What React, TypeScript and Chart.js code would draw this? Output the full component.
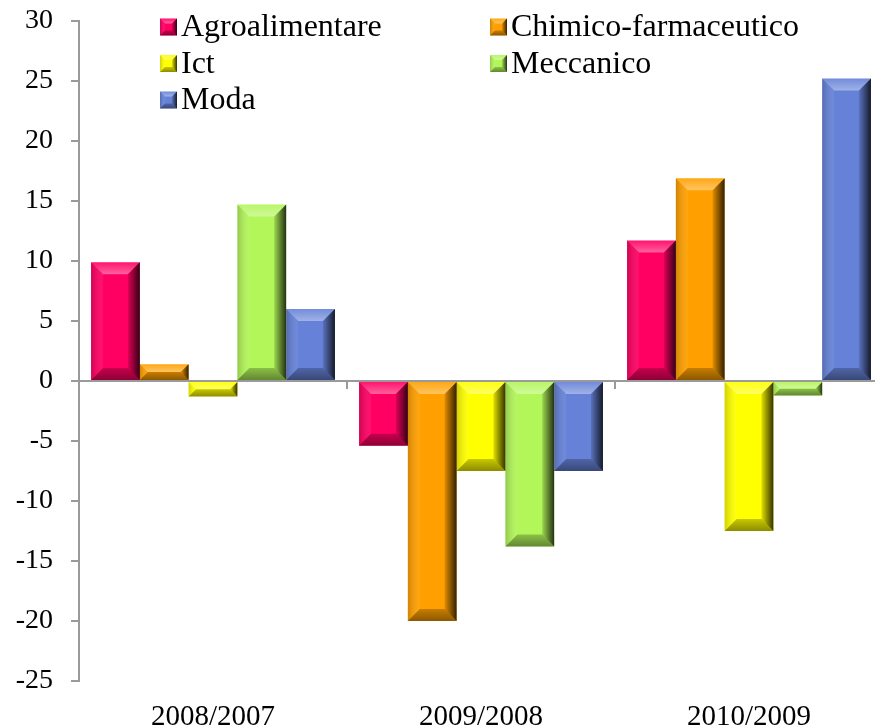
import { useEffect, useRef } from 'react';
import { Chart, registerables } from 'chart.js';

Chart.register(...registerables);

// Variazione percentuale per comparto
const categories = ['2008/2007', '2009/2008', '2010/2009'];
const seriesNames = ['Agroalimentare', 'Chimico-farmaceutico', 'Ict', 'Meccanico', 'Moda'];
const agroalimentare = [9.9, -5.4, 11.7];
const chimicoFarmaceutico = [1.4, -20.0, 16.9];
const ict = [-1.3, -7.5, -12.5];
const meccanico = [14.7, -13.8, -1.2];
const moda = [6.0, -7.5, 25.2];
const seriesColors = ['#FF0062', '#FFA000', '#FFFF00', '#B2F65A', '#6682D8'];
const yMin = -25;
const yMax = 30;
const yStep = 5;

const FONT = '"Liberation Serif", "Times New Roman", serif';

function poly(ctx: CanvasRenderingContext2D, pts: number[][], fill: string | CanvasGradient) {
  ctx.beginPath();
  ctx.moveTo(pts[0][0], pts[0][1]);
  for (let i = 1; i < pts.length; i++) ctx.lineTo(pts[i][0], pts[i][1]);
  ctx.closePath();
  ctx.fillStyle = fill;
  ctx.fill();
}

// Bevelled edges drawn over a flat rectangle
function bevel(ctx: CanvasRenderingContext2D, l: number, t: number, r: number, b: number, depth: number) {
  const d = Math.min(depth, (r - l) / 2, (b - t) / 2);
  if (d <= 0) return;
  ctx.save();
  let g = ctx.createLinearGradient(0, t, 0, t + d);
  g.addColorStop(0, 'rgba(255,255,255,0.08)');
  g.addColorStop(1, 'rgba(255,255,255,0.38)');
  poly(ctx, [[l, t], [r, t], [r - d, t + d], [l + d, t + d]], g);

  g = ctx.createLinearGradient(l, 0, l + d, 0);
  g.addColorStop(0, 'rgba(0,0,0,0.18)');
  g.addColorStop(1, 'rgba(255,255,255,0.06)');
  poly(ctx, [[l, t], [l + d, t + d], [l + d, b - d], [l, b]], g);

  g = ctx.createLinearGradient(r - d, 0, r, 0);
  g.addColorStop(0, 'rgba(0,0,0,0.12)');
  g.addColorStop(1, 'rgba(0,0,0,0.8)');
  poly(ctx, [[r, t], [r, b], [r - d, b - d], [r - d, t + d]], g);

  g = ctx.createLinearGradient(0, b - d, 0, b);
  g.addColorStop(0, 'rgba(0,0,0,0.22)');
  g.addColorStop(1, 'rgba(0,0,0,0.45)');
  poly(ctx, [[l, b], [r, b], [r - d, b - d], [l + d, b - d]], g);
  ctx.restore();
}

const bevelPlugin = {
  id: 'bevelBars',
  afterDatasetsDraw(chart: any) {
    const ctx = chart.ctx as CanvasRenderingContext2D;
    chart.data.datasets.forEach((_: any, i: number) => {
      const meta = chart.getDatasetMeta(i);
      meta.data.forEach((el: any) => {
        const p = el.getProps(['x', 'y', 'base', 'width'], true);
        const l = p.x - p.width / 2;
        const r = p.x + p.width / 2;
        const t = Math.min(p.y, p.base);
        const b = Math.max(p.y, p.base);
        bevel(ctx, l, t, r, b, 12);
      });
    });
  },
};

// Zero line with category separators
const zeroLinePlugin = {
  id: 'zeroLine',
  afterDatasetsDraw(chart: any) {
    const ctx = chart.ctx as CanvasRenderingContext2D;
    const { left, right } = chart.chartArea;
    const y0 = chart.scales.y.getPixelForValue(0);
    ctx.save();
    ctx.strokeStyle = '#9a9a9a';
    ctx.lineWidth = 2;
    ctx.beginPath();
    ctx.moveTo(left, y0);
    ctx.lineTo(right, y0);
    ctx.stroke();
    const n = categories.length;
    const step = (right - left) / n;
    for (let i = 1; i <= n; i++) {
      const x = Math.round(left + step * i);
      ctx.beginPath();
      ctx.moveTo(x, y0);
      ctx.lineTo(x, y0 + 8);
      ctx.stroke();
    }
    ctx.restore();
  },
};

// Two-column legend laid over the top of the plot
const legendPlugin = {
  id: 'gridLegend',
  afterDraw(chart: any) {
    const ctx = chart.ctx as CanvasRenderingContext2D;
    const { left, top } = chart.chartArea;
    const colX = [left + 81, left + 411];
    const rowH = 36.5;
    const box = 17;
    ctx.save();
    ctx.textBaseline = 'middle';
    ctx.textAlign = 'left';
    chart.data.datasets.forEach((ds: any, i: number) => {
      const col = i % 2;
      const row = Math.floor(i / 2);
      const cx = colX[col];
      const cy = top + 6 + row * rowH;
      ctx.fillStyle = ds.backgroundColor;
      ctx.fillRect(cx, cy - box / 2, box, box);
      bevel(ctx, cx, cy - box / 2, cx + box, cy + box / 2, 5);
      ctx.font = `32px ${FONT}`;
      ctx.fillStyle = '#000';
      ctx.fillText(ds.label, cx + box + 4, cy + 1);
    });
    ctx.restore();
  },
};

const whiteBg = {
  id: 'whiteBg',
  beforeDraw(chart: any) {
    const ctx = chart.ctx;
    ctx.save();
    ctx.fillStyle = '#fff';
    ctx.fillRect(0, 0, chart.width, chart.height);
    ctx.restore();
  },
};

export default function App() {
  const ref = useRef<HTMLCanvasElement>(null);

  useEffect(() => {
    if (!ref.current) return;
    const values = [agroalimentare, chimicoFarmaceutico, ict, meccanico, moda];
    const chart = new Chart(ref.current, {
      type: 'bar',
      data: {
        labels: categories,
        datasets: seriesNames.map((name, i) => ({
          label: name,
          data: values[i],
          backgroundColor: seriesColors[i],
          borderWidth: 0,
          categoryPercentage: 0.91,
          barPercentage: 1.0,
        })),
      },
      options: {
        responsive: false,
        animation: false,
        layout: { padding: { top: 21, right: 2, left: 0, bottom: 0 } },
        plugins: {
          legend: { display: false },
          tooltip: { enabled: false },
        },
        scales: {
          x: {
            grid: { display: false },
            border: { display: false },
            ticks: {
              color: '#000',
              font: { family: FONT, size: 29 },
              padding: 11,
              maxRotation: 0,
            },
            afterFit: (s: any) => {
              s.height = 47;
              s.paddingLeft = 0;
              s.paddingRight = 0;
            },
          },
          y: {
            min: yMin,
            max: yMax,
            ticks: {
              stepSize: yStep,
              color: '#000',
              font: { family: FONT, size: 28 },
              padding: 18,
            },
            grid: {
              drawOnChartArea: false,
              drawTicks: true,
              tickLength: 8,
              color: '#9a9a9a',
              lineWidth: 2,
            },
            border: { display: true, color: '#9a9a9a', width: 2 },
            afterFit: (s: any) => {
              s.width = 79;
              s.paddingTop = 0;
              s.paddingBottom = 0;
            },
          },
        },
      },
      plugins: [whiteBg, zeroLinePlugin, bevelPlugin, legendPlugin],
    });
    return () => chart.destroy();
  }, []);

  return (
    <div
      style={{
        position: 'fixed',
        left: 0,
        top: 0,
        width: 875,
        height: 728,
        overflow: 'hidden',
        background: '#fff',
      }}
    >
      <canvas ref={ref} width={885} height={728} style={{ width: 885, height: 728, display: 'block' }} />
    </div>
  );
}
